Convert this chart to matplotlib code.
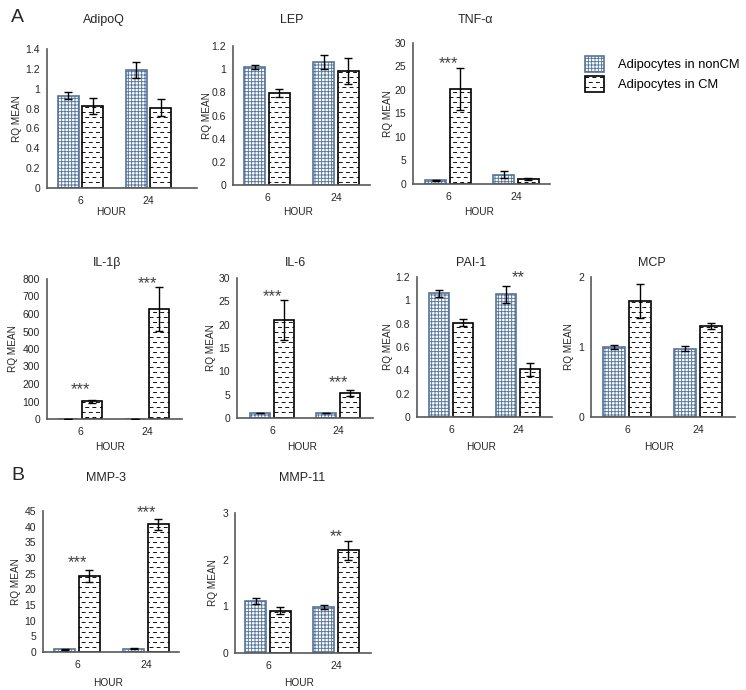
import warnings
warnings.filterwarnings('ignore')
import numpy as np
import matplotlib
matplotlib.use('Agg')
import matplotlib.pyplot as plt
import matplotlib.hatch as mhatch
import matplotlib.transforms as mtransforms
from matplotlib.path import Path
from matplotlib.patches import Patch
from matplotlib.ticker import FuncFormatter, MultipleLocator

plt.rcParams['font.family'] = ['Liberation Sans', 'DejaVu Sans']
plt.rcParams['hatch.linewidth'] = 0.65


# custom "dashed horizontal" hatch (Excel-like), triggered by '_'
class DashHatch(mhatch.HatchPatternBase):
    def __init__(self, hatch, density):
        self.rows = 20 if hatch.count('_') else 0
        self.cols = 14
        self.num_vertices = self.rows * self.cols * 2

    def set_vertices_and_codes(self, vertices, codes):
        k = 0
        for r in range(self.rows):
            y = (r + 0.5) / self.rows
            off = 0.0 if r % 2 == 0 else 0.5
            for c in range(self.cols):
                x0 = (c + off) / self.cols
                vertices[k] = (x0, y)
                vertices[k + 1] = (x0 + 0.03, y)
                codes[k] = Path.MOVETO
                codes[k + 1] = Path.LINETO
                k += 2


mhatch._hatch_types.append(DashHatch)

# ---------------- data ----------------
hours = ['6', '24']
series_names = ['Adipocytes in nonCM', 'Adipocytes in CM']
genes = ['AdipoQ', 'LEP', 'TNF-α', 'IL-1β', 'IL-6', 'PAI-1', 'MCP', 'MMP-3', 'MMP-11']

nonCM_mean = [[0.93, 1.19], [1.02, 1.065], [0.78, 1.99], [1.0, 1.0], [1.07, 1.07],
              [1.06, 1.05], [1.0, 0.976], [0.85, 1.06], [1.107, 0.979]]
nonCM_err = [[0.033, 0.078], [0.016, 0.06], [0.05, 0.75], [0.5, 0.5], [0.1, 0.08],
             [0.03, 0.074], [0.028, 0.033], [0.1, 0.15], [0.064, 0.043]]
CM_mean = [[0.827, 0.81], [0.798, 0.988], [20.3, 1.06], [101, 628], [21.07, 5.36],
           [0.807, 0.408], [1.654, 1.294], [24.26, 40.74], [0.907, 2.2]]
CM_err = [[0.08, 0.088], [0.035, 0.112], [4.45, 0.3], [10, 125], [4.3, 0.6],
          [0.03, 0.054], [0.245, 0.043], [2.0, 1.65], [0.078, 0.2]]

y_max = [1.4, 1.2, 30, 800, 30, 1.2, 2, 45, 3]
y_step = [0.2, 0.2, 5, 100, 5, 0.2, 1, 5, 1]

# significance marks: (gene index, hour index, label, y position in data units)
sig_gene = [2, 3, 3, 4, 4, 5, 7, 7, 8]
sig_hour = [0, 0, 1, 0, 1, 1, 0, 1, 1]
sig_text = ['***', '***', '***', '***', '***', '**', '***', '***', '**']
sig_y = [26.6, 194, 800, 27, 8.6, 1.23, 30, 46, 2.6]

# ---------------- layout (pixels) ----------------
W, H = 746, 690
# left, right, top, bottom of axes
boxes = [(47, 197, 49, 188), (233, 370, 46, 185), (413, 550, 43, 184),
         (47, 182, 279, 419), (237, 373, 278, 418), (417, 552, 277, 417), (591, 735, 277, 417),
         (43, 179, 511, 652), (235, 371, 513, 653)]
cat_px = [(80.5, 148.5), (267, 336), (448, 516),
          (80, 147), (272, 338), (451, 518), (627, 698),
          (77, 146), (268, 336)]
title_px = [(104, 20), (292, 20), (475, 20),
            (107, 263), (296, 263), (471, 263), (652, 263),
            (106, 478), (302, 478)]
ylabel_x = [17, 207, 388, 13, 211, 388, 569, 16, 213]
hour_y = [212, 212, 212, 447, 447, 447, 447, 683, 683]

BLUE = '#55759a'
AX = '#595959'
TXT = '#262626'
width = 0.31
off = 0.18

fig = plt.figure(figsize=(W / 100, H / 100), dpi=100)

fmt = FuncFormatter(lambda v, p: f'{v:g}')
star_shift = mtransforms.ScaledTranslation(0, -4.5 / 100, fig.dpi_scale_trans)

for i, g in enumerate(genes):
    l, r, t, b = boxes[i]
    ax = fig.add_axes([l / W, 1 - b / H, (r - l) / W, (b - t) / H])
    c1, c2 = cat_px[i]
    sp = c2 - c1
    ax.set_xlim(-(c1 - l) / sp, 1 + (r - c2) / sp)
    ax.set_ylim(0, y_max[i])
    x = np.arange(len(hours))
    ax.bar(x - off, nonCM_mean[i], width, facecolor='white', edgecolor=BLUE,
           hatch='+++++', linewidth=1.2, zorder=2)
    ax.bar(x + off, CM_mean[i], width, facecolor='white', edgecolor='black',
           hatch='_', linewidth=1.2, zorder=2)
    ax.errorbar(x - off, nonCM_mean[i], yerr=nonCM_err[i], fmt='none', ecolor='black',
                elinewidth=1, capsize=3, capthick=1, zorder=3)
    ax.errorbar(x + off, CM_mean[i], yerr=CM_err[i], fmt='none', ecolor='black',
                elinewidth=1, capsize=3, capthick=1, zorder=3)
    ax.set_xticks(x)
    ax.set_xticklabels(hours)
    ax.yaxis.set_major_locator(MultipleLocator(y_step[i]))
    ax.yaxis.set_major_formatter(fmt)
    ax.tick_params(length=0, pad=6, labelsize=7.5, colors=TXT)
    ax.tick_params(axis='y', pad=5)
    for s in ['top', 'right']:
        ax.spines[s].set_visible(False)
    for s in ['left', 'bottom']:
        ax.spines[s].set_color(AX)
        ax.spines[s].set_linewidth(1.2)
    ax.set_ylabel('RQ MEAN', fontsize=7.2, color=TXT)
    ax.yaxis.label.set_va('center')
    ax.yaxis.set_label_coords((ylabel_x[i] - l) / (r - l), 0.5)
    ax.set_xlabel('HOUR', fontsize=7.3, color=TXT)
    ax.xaxis.label.set_va('center')
    xmid = ((c1 + c2) / 2 - 3 - l) / (r - l)
    ax.xaxis.set_label_coords(xmid, -(hour_y[i] - b) / (b - t))
    fig.text(title_px[i][0] / W, 1 - title_px[i][1] / H, g, ha='center', va='center',
             fontsize=9, color=TXT)
    for gi, hi, st, sy in zip(sig_gene, sig_hour, sig_text, sig_y):
        if gi == i:
            ax.text(hi, sy, st, ha='center', va='center', fontsize=12, color='#404040',
                    clip_on=False, transform=ax.transData + star_shift)

fig.text(17 / W, 1 - 17 / H, 'A', ha='center', va='center', fontsize=14, color=TXT)
fig.text(18 / W, 1 - 475 / H, 'B', ha='center', va='center', fontsize=14, color=TXT)

handles = [Patch(facecolor='white', edgecolor=BLUE, hatch='+++++', linewidth=1.2),
           Patch(facecolor='white', edgecolor='black', hatch='_', linewidth=1.2)]
fig.legend(handles, series_names, loc='upper left', bbox_to_anchor=(585 / W, 1 - 56 / H),
           frameon=False, fontsize=9.3, handlelength=1.45, handleheight=1.55,
           handletextpad=1.1, labelspacing=0.3, borderaxespad=0, borderpad=0)

fig.savefig('out.png', dpi=100)
